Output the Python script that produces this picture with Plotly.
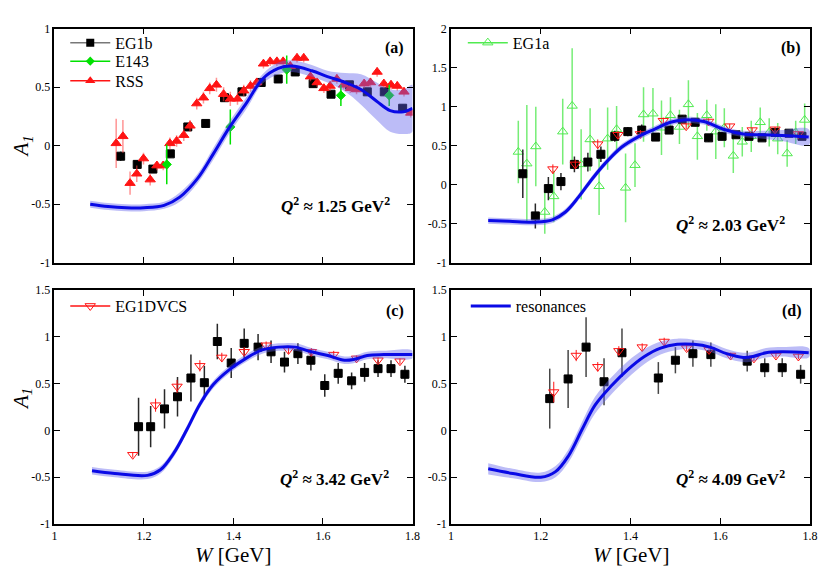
import plotly.graph_objects as go
from plotly.subplots import make_subplots

FONT = "Liberation Serif"

# ---------------- panel (a)  Q2 ~ 1.25 ----------------
w_res_a = [1.08, 1.12, 1.16, 1.20, 1.245, 1.28, 1.32, 1.355, 1.39, 1.43, 1.465,
           1.50, 1.53, 1.575, 1.61, 1.65, 1.685, 1.72, 1.75, 1.78, 1.80]
a1_res_a = [-0.50, -0.52, -0.53, -0.53, -0.51, -0.44, -0.28, -0.07, 0.15, 0.37, 0.57,
            0.66, 0.68, 0.64, 0.59, 0.54, 0.48, 0.38, 0.30, 0.29, 0.32]
band_a = [0.03, 0.03, 0.03, 0.03, 0.03, 0.04, 0.04, 0.05, 0.05, 0.05, 0.04,
          0.05, 0.05, 0.05, 0.05, 0.08, 0.13, 0.16, 0.18, 0.19, 0.20]

w_eg1b_a = [1.148, 1.185, 1.220, 1.259, 1.298, 1.338, 1.380, 1.419, 1.462, 1.500,
            1.538, 1.578, 1.618, 1.659, 1.699, 1.737, 1.778]
a1_eg1b_a = [-0.09, -0.16, -0.20, -0.07, 0.16, 0.19, 0.41, 0.46, 0.54, 0.57,
             0.63, 0.53, 0.44, 0.52, 0.46, 0.46, 0.32]
err_eg1b_a = [0.04, 0.03, 0.03, 0.03, 0.03, 0.03, 0.03, 0.03, 0.03, 0.03,
              0.03, 0.03, 0.03, 0.03, 0.03, 0.03, 0.03]

w_e143_a = [1.251, 1.393, 1.519, 1.640, 1.748]
a1_e143_a = [-0.16, 0.16, 0.65, 0.43, 0.43]
err_e143_a = [0.17, 0.15, 0.12, 0.09, 0.09]

w_rss_a = [1.138, 1.153, 1.169, 1.184, 1.199, 1.214, 1.229, 1.243, 1.258, 1.273,
           1.289, 1.303, 1.318, 1.333, 1.347, 1.362, 1.378, 1.393, 1.409, 1.423,
           1.438, 1.452, 1.467, 1.482, 1.497, 1.511, 1.527, 1.542, 1.557, 1.572,
           1.587, 1.602, 1.616, 1.631, 1.646, 1.661, 1.675, 1.692, 1.706, 1.721,
           1.736, 1.752, 1.766, 1.781, 1.796]
a1_rss_a = [0.02, 0.08, -0.32, -0.24, -0.11, -0.29, -0.17, -0.17, 0.02, 0.04,
            0.09, 0.17, 0.36, 0.41, 0.49, 0.52, 0.44, 0.40, 0.40, 0.47,
            0.51, 0.54, 0.70, 0.72, 0.72, 0.72, 0.68, 0.75, 0.75, 0.59,
            0.54, 0.49, 0.51, 0.57, 0.52, 0.49, 0.48, 0.53, 0.54, 0.63,
            0.53, 0.52, 0.51, 0.46, 0.28]
err_rss_a = [0.21, 0.14, 0.10, 0.07, 0.05, 0.05, 0.04, 0.04, 0.05, 0.05,
             0.05, 0.05, 0.05, 0.05, 0.05, 0.06, 0.06, 0.06, 0.05, 0.05,
             0.05, 0.04, 0.04, 0.04, 0.04, 0.04, 0.04, 0.04, 0.04, 0.04,
             0.04, 0.04, 0.04, 0.04, 0.04, 0.04, 0.04, 0.04, 0.04, 0.04,
             0.04, 0.04, 0.04, 0.04, 0.04]

# ---------------- panel (b)  Q2 ~ 2.03 ----------------
w_res_b = [1.083, 1.13, 1.189, 1.226, 1.255, 1.284, 1.314, 1.343, 1.380, 1.416,
           1.453, 1.489, 1.519, 1.563, 1.607, 1.651, 1.695, 1.738, 1.797]
a1_res_b = [-0.46, -0.47, -0.48, -0.45, -0.35, -0.16, 0.07, 0.27, 0.48, 0.61,
            0.71, 0.80, 0.83, 0.81, 0.71, 0.65, 0.64, 0.63, 0.61]
band_b = [0.04, 0.04, 0.04, 0.04, 0.04, 0.04, 0.04, 0.04, 0.04, 0.04,
          0.04, 0.04, 0.04, 0.04, 0.04, 0.04, 0.05, 0.07, 0.10]

w_eg1b_b = [1.160, 1.188, 1.217, 1.245, 1.275, 1.305, 1.334, 1.365, 1.394, 1.425,
            1.456, 1.486, 1.515, 1.544, 1.574, 1.604, 1.635, 1.664, 1.693, 1.722,
            1.753, 1.782]
a1_eg1b_b = [0.14, -0.40, -0.05, 0.04, 0.26, 0.29, 0.39, 0.62, 0.68, 0.70,
             0.61, 0.70, 0.84, 0.80, 0.60, 0.62, 0.64, 0.62, 0.60, 0.67,
             0.66, 0.62]
err_eg1b_b = [0.31, 0.16, 0.15, 0.11, 0.10, 0.12, 0.10, 0.07, 0.06, 0.07,
              0.05, 0.05, 0.05, 0.05, 0.05, 0.05, 0.04, 0.04, 0.04, 0.04,
              0.04, 0.04]

w_eg1a_b = [1.150, 1.169, 1.189, 1.209, 1.229, 1.249, 1.270, 1.290, 1.310, 1.330,
            1.349, 1.369, 1.389, 1.410, 1.429, 1.450, 1.469, 1.489, 1.509, 1.529,
            1.549, 1.570, 1.590, 1.609, 1.629, 1.649, 1.669, 1.689, 1.709, 1.728,
            1.749, 1.768, 1.788]
a1_eg1a_b = [0.42, 0.27, 0.49, -0.35, -0.15, 0.68, 1.01, 0.26, 0.58, -0.02,
             0.59, 0.71, -0.04, 0.25, 0.90, 0.91, 0.73, 0.89, 0.74, 1.03,
             0.62, 0.89, 0.68, 0.73, 0.37, 0.55, 0.62, 0.80, 0.67, 0.59,
             0.40, 0.67, 0.83]
err_eg1a_b = [0.40, 0.75, 0.51, 0.28, 0.33, 0.42, 0.74, 0.45, 0.40, 0.37,
              0.40, 0.30, 0.44, 0.28, 0.35, 0.33, 0.35, 0.23, 0.22, 0.31,
              0.30, 0.20, 0.35, 0.25, 0.22, 0.19, 0.20, 0.19, 0.18, 0.20,
              0.17, 0.15, 0.21]

w_dvcs_b = [1.227, 1.277, 1.327, 1.372, 1.422, 1.473, 1.524, 1.574, 1.621, 1.671,
            1.722, 1.774]
a1_dvcs_b = [0.20, 0.26, 0.52, 0.64, 0.65, 0.82, 0.75, 0.81, 0.75, 0.70,
             0.71, 0.65]
err_dvcs_b = [0.06, 0.06, 0.06, 0.05, 0.05, 0.04, 0.04, 0.04, 0.03, 0.03,
              0.03, 0.03]

# ---------------- panel (c)  Q2 ~ 3.42 ----------------
w_res_c = [1.084, 1.135, 1.208, 1.237, 1.267, 1.296, 1.325, 1.355, 1.391, 1.428,
           1.464, 1.501, 1.538, 1.574, 1.611, 1.648, 1.670, 1.699, 1.736, 1.80]
a1_res_c = [-0.43, -0.46, -0.48, -0.42, -0.24, 0.01, 0.28, 0.49, 0.65, 0.77,
            0.86, 0.89, 0.89, 0.84, 0.80, 0.75, 0.76, 0.80, 0.81, 0.81]
band_c = [0.04, 0.04, 0.04, 0.04, 0.04, 0.04, 0.04, 0.04, 0.04, 0.04,
          0.04, 0.04, 0.04, 0.04, 0.04, 0.04, 0.04, 0.04, 0.04, 0.04]

w_eg1b_c = [1.188, 1.215, 1.246, 1.275, 1.305, 1.335, 1.364, 1.395, 1.424, 1.455,
            1.484, 1.514, 1.544, 1.573, 1.604, 1.634, 1.664, 1.693, 1.723, 1.752,
            1.783]
a1_eg1b_c = [0.04, 0.04, 0.23, 0.36, 0.56, 0.51, 0.95, 0.72, 0.93, 0.89,
             0.84, 0.73, 0.82, 0.75, 0.48, 0.61, 0.53, 0.62, 0.66, 0.66,
             0.60]
err_eg1b_c = [0.31, 0.22, 0.21, 0.21, 0.25, 0.18, 0.19, 0.16, 0.16, 0.14,
              0.12, 0.11, 0.11, 0.11, 0.12, 0.11, 0.09, 0.10, 0.09, 0.09,
              0.09]

w_dvcs_c = [1.175, 1.226, 1.274, 1.325, 1.374, 1.424, 1.473, 1.523, 1.574, 1.624,
            1.675, 1.723, 1.772]
a1_dvcs_c = [-0.26, 0.27, 0.47, 0.69, 0.78, 0.84, 0.91, 0.86, 0.84, 0.81,
             0.77, 0.75, 0.74]
err_dvcs_c = [0.03, 0.07, 0.07, 0.06, 0.05, 0.05, 0.04, 0.04, 0.04, 0.04,
              0.03, 0.03, 0.03]

# ---------------- panel (d)  Q2 ~ 4.09 ----------------
w_res_d = [1.083, 1.138, 1.200, 1.233, 1.262, 1.292, 1.321, 1.358, 1.394, 1.431,
           1.467, 1.504, 1.541, 1.577, 1.614, 1.651, 1.673, 1.702, 1.738, 1.797]
a1_res_d = [-0.41, -0.46, -0.50, -0.44, -0.27, 0.01, 0.27, 0.48, 0.65, 0.79,
            0.88, 0.92, 0.92, 0.89, 0.82, 0.78, 0.79, 0.83, 0.84, 0.83]
band_d = [0.06, 0.05, 0.05, 0.06, 0.07, 0.08, 0.09, 0.09, 0.09, 0.08,
          0.07, 0.06, 0.05, 0.05, 0.05, 0.05, 0.05, 0.05, 0.05, 0.05]

w_eg1b_d = [1.220, 1.261, 1.301, 1.341, 1.381, 1.462, 1.500, 1.539, 1.579, 1.660,
            1.699, 1.738, 1.779]
a1_eg1b_d = [0.34, 0.55, 0.89, 0.52, 0.83, 0.56, 0.75, 0.82, 0.81, 0.74,
             0.67, 0.67, 0.60]
err_eg1b_d = [0.32, 0.31, 0.32, 0.25, 0.26, 0.17, 0.14, 0.14, 0.13, 0.11,
              0.10, 0.10, 0.10]

w_dvcs_d = [1.229, 1.279, 1.327, 1.374, 1.426, 1.475, 1.525, 1.575, 1.623, 1.675,
            1.724, 1.774]
a1_dvcs_d = [0.41, 0.80, 0.68, 0.85, 0.89, 0.95, 0.88, 0.86, 0.80, 0.77,
             0.80, 0.79]
err_dvcs_d = [0.11, 0.06, 0.05, 0.05, 0.04, 0.04, 0.03, 0.03, 0.03, 0.03,
              0.03, 0.03]

q2_labels = ["1.25", "2.03", "3.42", "4.09"]
panel_tags = ["(a)", "(b)", "(c)", "(d)"]

# the page has an 8px body margin; keep the figure inside the 830x581 window
OFF = 8
W_FIG, H_FIG = 830 - 2 * OFF, 581 - 2 * OFF
BLUE = "rgb(10,10,230)"
BAND = "rgba(95,95,235,0.42)"
BLACK = "black"
GREEN = "rgb(0,225,0)"
LGREEN = "rgb(80,235,80)"
RED = "rgb(255,20,20)"


def px2x(p):
    return (p - OFF) / W_FIG


def px2y(p):
    return 1 - (p - OFF) / H_FIG


fig = make_subplots(rows=2, cols=2)


def add_points(x, y, err, row, col, symbol, color, ecolor, size=8, ethick=1.5, lw=1):
    fig.add_trace(go.Scatter(
        x=x, y=y, mode="markers", showlegend=False,
        marker=dict(symbol=symbol, color=color, size=size, line=dict(color=color, width=lw)),
        error_y=dict(type="data", array=err, color=ecolor, thickness=ethick, width=0),
    ), row=row, col=col)


def add_res(x, y, half, row, col, legend=None):
    up = [a + b for a, b in zip(y, half)]
    lo = [a - b for a, b in zip(y, half)]
    fig.add_trace(go.Scatter(
        x=x + x[::-1], y=up + lo[::-1], fill="toself", fillcolor=BAND,
        line=dict(width=0, shape="spline"), mode="lines", showlegend=False, hoverinfo="skip",
    ), row=row, col=col)
    fig.add_trace(go.Scatter(
        x=x, y=y, mode="lines", name="resonances", line=dict(color=BLUE, width=3, shape="spline"),
        showlegend=legend is not None, legend=legend or "legend",
    ), row=row, col=col)


def add_key(name, symbol, color, lcolor, legend, size=8):
    fig.add_trace(go.Scatter(
        x=[None], y=[None], mode="lines+markers", name=name, legend=legend,
        line=dict(color=lcolor, width=1.5),
        marker=dict(symbol=symbol, color=color, size=size),
    ), row=1, col=1)


# panel a
add_points(w_eg1b_a, a1_eg1b_a, err_eg1b_a, 1, 1, "square", BLACK, "rgb(90,90,90)")
add_points(w_rss_a, a1_rss_a, err_rss_a, 1, 1, "triangle-up", RED, "rgba(255,60,60,0.55)", size=9)
add_points(w_e143_a, a1_e143_a, err_e143_a, 1, 1, "diamond", GREEN, GREEN, size=7)
add_res(w_res_a, a1_res_a, band_a, 1, 1)

# panel b
add_points(w_eg1a_b, a1_eg1a_b, err_eg1a_b, 1, 2, "triangle-up-open", LGREEN, "rgba(60,230,60,0.7)", size=9)
add_points(w_eg1b_b, a1_eg1b_b, err_eg1b_b, 1, 2, "square", BLACK, "rgb(40,40,40)")
add_points(w_dvcs_b, a1_dvcs_b, err_dvcs_b, 1, 2, "triangle-down-open", RED, RED, size=9, ethick=1)
add_res(w_res_b, a1_res_b, band_b, 1, 2)

# panel c
add_points(w_eg1b_c, a1_eg1b_c, err_eg1b_c, 2, 1, "square", BLACK, "rgb(40,40,40)")
add_points(w_dvcs_c, a1_dvcs_c, err_dvcs_c, 2, 1, "triangle-down-open", RED, RED, size=9, ethick=1)
add_res(w_res_c, a1_res_c, band_c, 2, 1)

# panel d
add_points(w_eg1b_d, a1_eg1b_d, err_eg1b_d, 2, 2, "square", BLACK, "rgb(70,70,70)")
add_points(w_dvcs_d, a1_dvcs_d, err_dvcs_d, 2, 2, "triangle-down-open", RED, RED, size=9, ethick=1)
add_res(w_res_d, a1_res_d, band_d, 2, 2, legend="legend4")

# legend keys (line + symbol, as in the original); one small legend per row
add_key("EG1b", "square", BLACK, "rgb(120,120,120)", "legend")
add_key("E143", "diamond", GREEN, GREEN, "legend5", size=7)
add_key("RSS", "triangle-up", RED, RED, "legend6", size=9)
add_key("EG1a", "triangle-up-open", LGREEN, LGREEN, "legend2", size=9)
add_key("EG1DVCS", "triangle-down-open", RED, RED, "legend3", size=9)

# domains
xa = [px2x(52), px2x(415)]
xb = [px2x(454), px2x(818)]
ytop = [px2y(262), px2y(22)]
ybot = [px2y(530), px2y(290)]

axis_common = dict(
    showline=True, linecolor="black", linewidth=1.5, mirror="allticks",
    ticks="inside", ticklen=6, tickwidth=1.2, tickcolor="black",
    showgrid=False, zeroline=False,
    tickfont=dict(family=FONT, size=12, color="black"),
)


def fmt(v):
    return "%g" % v


xt = [1, 1.2, 1.4, 1.6, 1.8]
fig.update_xaxes(range=[1, 1.8], tickvals=xt, ticktext=[fmt(v) for v in xt], **axis_common)
fig.update_xaxes(showticklabels=False, row=1)

ya = [-1, -0.5, 0, 0.5, 1]
yb = [-1, -0.5, 0, 0.5, 1, 1.5, 2]
yc = [-1, -0.5, 0, 0.5, 1, 1.5]
fig.update_yaxes(**axis_common)
fig.update_yaxes(range=[-1, 1], tickvals=ya, ticktext=[fmt(v) for v in ya], row=1, col=1)
fig.update_yaxes(range=[-1, 2], tickvals=yb, ticktext=[fmt(v) for v in yb], row=1, col=2)
fig.update_yaxes(range=[-1, 1.5], tickvals=yc, ticktext=[fmt(v) for v in yc], row=2, col=1)
fig.update_yaxes(range=[-1, 1.5], tickvals=yc, ticktext=[fmt(v) for v in yc], row=2, col=2)

leg_common = dict(font=dict(family=FONT, size=16, color="black"), bgcolor="rgba(0,0,0,0)",
                  xanchor="left", yanchor="top", itemwidth=40, tracegroupgap=0)


def leg(x, y):
    return dict(x=px2x(x), y=px2y(y), **leg_common)


fig.update_layout(
    width=W_FIG, height=H_FIG,
    margin=dict(l=0, r=0, t=0, b=0),
    paper_bgcolor="white", plot_bgcolor="white",
    xaxis=dict(domain=xa), xaxis2=dict(domain=xb), xaxis3=dict(domain=xa), xaxis4=dict(domain=xb),
    yaxis=dict(domain=ytop), yaxis2=dict(domain=ytop), yaxis3=dict(domain=ybot), yaxis4=dict(domain=ybot),
    legend=leg(63, 19), legend5=leg(63, 38), legend6=leg(63, 58),
    legend2=leg(466, 19),
    legend3=leg(63, 289),
    legend4=leg(469, 289),
)

# panel tags and Q2 labels
tag_pos = [(397, 42), (799, 42), (397, 312), (800, 312)]
q2_pos = [(337, 203), (737, 222), (336, 483), (737, 483)]
for tag, (tx, ty), q2, (qx, qy) in zip(panel_tags, tag_pos, q2_labels, q2_pos):
    fig.add_annotation(x=px2x(tx), y=px2y(ty), xref="paper", yref="paper", showarrow=False,
                       xanchor="center", yanchor="middle",
                       text="<b>%s</b>" % tag, font=dict(family=FONT, size=16, color="black"))
    fig.add_annotation(x=px2x(qx), y=px2y(qy), xref="paper", yref="paper", showarrow=False,
                       xanchor="center", yanchor="middle",
                       text="<b><i>Q</i><sup>2</sup> \u2248 %s GeV<sup>2</sup></b>" % q2,
                       font=dict(family=FONT, size=17, color="black"))

# axis titles
for yy in (143, 402):
    fig.add_annotation(x=px2x(19), y=px2y(yy), xref="paper", yref="paper", showarrow=False,
                       xanchor="center", yanchor="middle",
                       text="<i>A<sub>1</sub></i>", textangle=-90,
                       font=dict(family=FONT, size=21, color="black"))
for xx in (233, 636):
    fig.add_annotation(x=px2x(xx), y=px2y(562), xref="paper", yref="paper", showarrow=False,
                       xanchor="center", yanchor="middle",
                       text="<i>W</i> [GeV]", font=dict(family=FONT, size=21, color="black"))

fig.write_html("out.html")
